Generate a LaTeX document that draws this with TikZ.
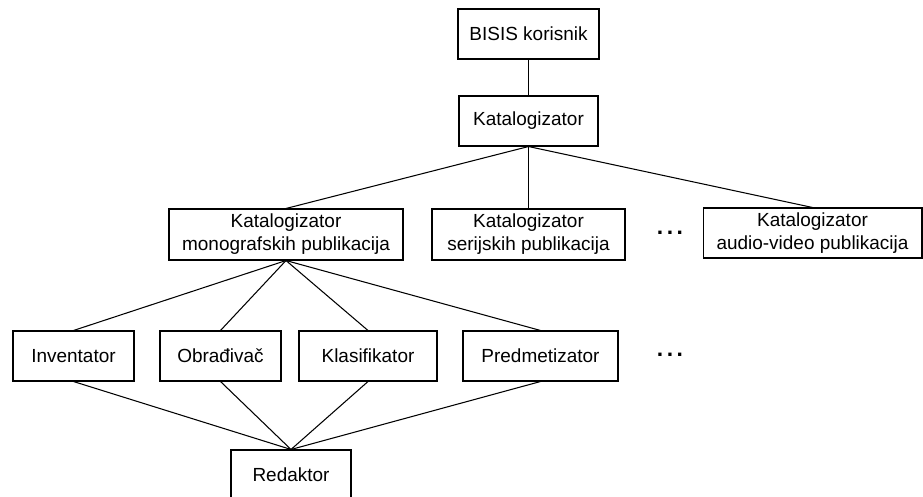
\documentclass[tikz,border=0pt]{standalone}
\usepackage{fontspec}
\setmainfont{Liberation Sans}
\usetikzlibrary{positioning}

\begin{document}
\begin{tikzpicture}[
  x=0.02cm, y=-0.02cm,
  font=\fontsize{10.8}{13}\selectfont,
  b/.style={draw=black, line width=0.6pt, inner sep=0pt, align=center,
    minimum height=1cm},
  ln/.style={draw=black, line width=0.6pt},
  more/.style={inner sep=0pt, font=\fontsize{13}{13}\selectfont\bfseries},
]
\useasboundingbox (0,0) rectangle (923,497);
\clip (0,0) rectangle (923,497);
% top of the tree: user and the general cataloguer role
\node[b, minimum width=2.82cm] (user) at (528.5,34) {BISIS korisnik};
\node[b, minimum width=2.78cm] (kat)  at (528.5,121) {Katalogizator};
% cataloguers by publication type; the dots stand for further types
\node[b, minimum width=4.68cm, minimum height=1.02cm] (mono) at (286,234.5)
  {Katalogizator\\monografskih publikacija};
\node[b, minimum width=3.86cm, minimum height=1.02cm] (seri) at (528.5,234.5)
  {Katalogizator\\serijskih publikacija};
\node[b, minimum width=4.38cm] (av) at (812.5,233)
  {Katalogizator\\audio-video publikacija};
\node[more] (dots1) at (670,233) {.\hspace{2pt}.\hspace{2pt}.};
% roles under the monograph cataloguer
\node[b, minimum width=2.42cm] (inv) at (73.5,356) {Inventator};
\node[b, minimum width=2.42cm] (obr) at (220.5,356) {Obrađivač};
\node[b, minimum width=2.76cm] (kla) at (368,356) {Klasifikator};
\node[b, minimum width=3.10cm] (pre) at (540.5,356) {Predmetizator};
\node[more] (dots2) at (670,355) {.\hspace{2pt}.\hspace{2pt}.};
\node[b, minimum width=2.40cm] (red) at (291,475) {Redaktor};

\draw[ln] (user.south) -- (kat.north);
\foreach \n in {mono,seri,av}
  \draw[ln] (kat.south) -- (\n.north);
\foreach \n in {inv,obr,kla,pre} {
  \draw[ln] (mono.south) -- (\n.north);
  \draw[ln] (\n.south) -- (red.north);
}
\end{tikzpicture}
\end{document}
